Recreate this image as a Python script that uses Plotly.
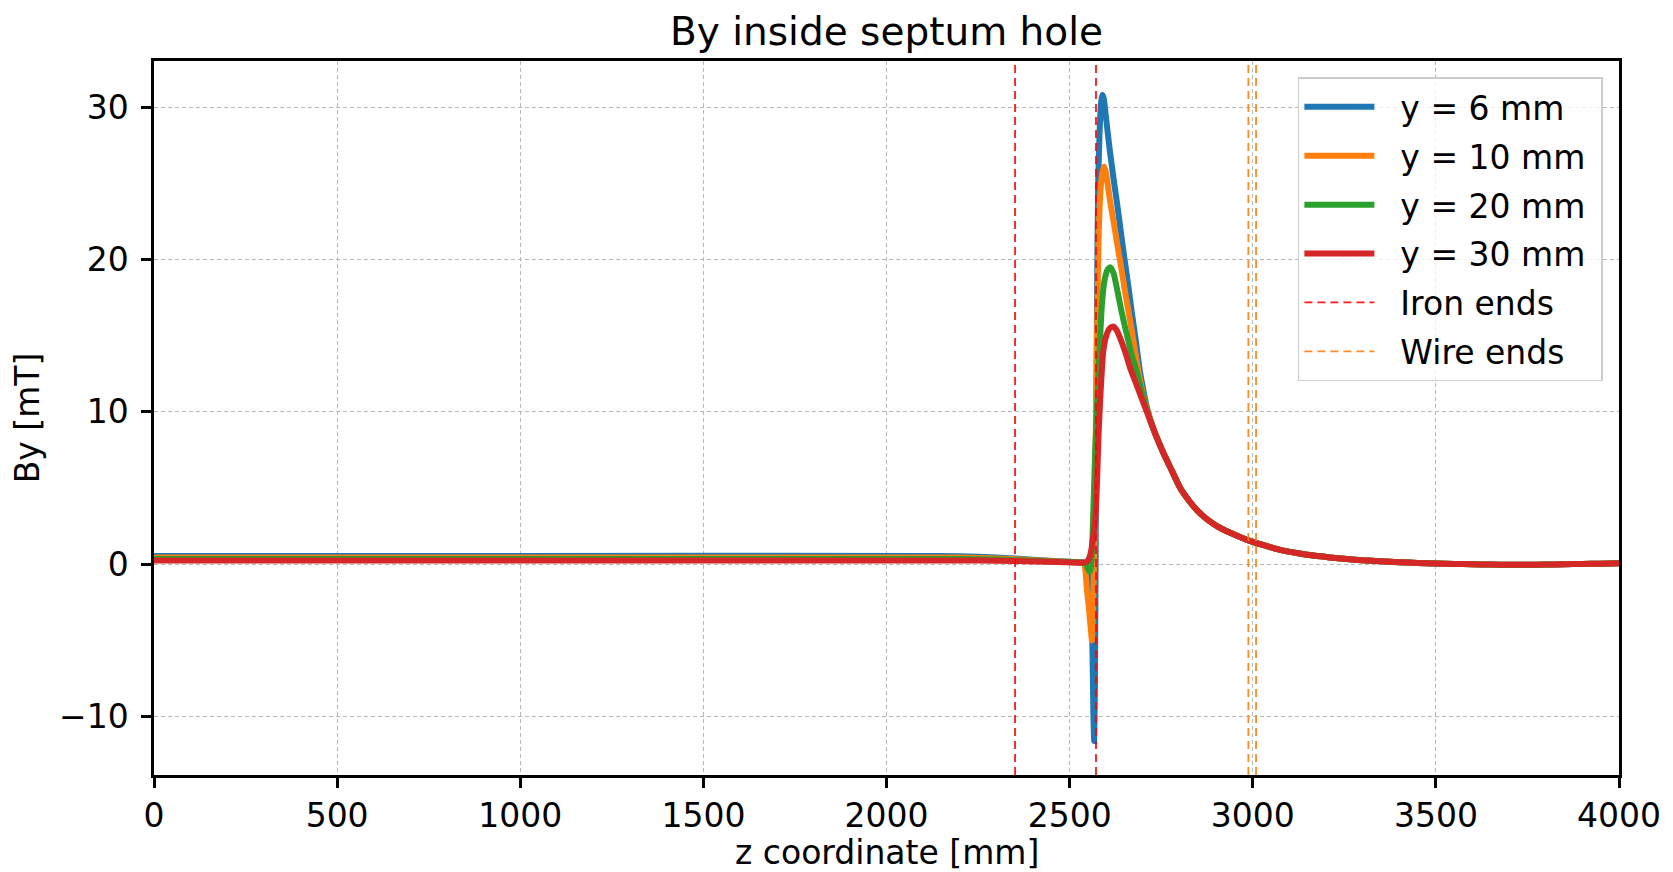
import plotly.graph_objects as go

# field profiles, z in mm, By in mT
z_y6 = [0, 1000, 2100, 2200, 2300, 2400, 2470, 2530, 2545, 2552, 2558, 2562, 2565, 2567,
        2569, 2572, 2575, 2578, 2582, 2586, 2589, 2593, 2598, 2610, 2620, 2630, 2641,
        2650, 2660, 2670, 2680, 2692, 2700, 2711]
by_y6 = [0.55, 0.55, 0.55, 0.53, 0.45, 0.30, 0.20, 0.13, 0.10, 0.0, -1.5, -5.0, -10.0, -11.6,
         -8.0, 5.0, 18.0, 25.0, 28.5, 30.3, 30.8, 30.6, 29.6, 27.1, 25.3, 23.6, 21.6,
         20.0, 18.3, 16.5, 14.8, 12.65, 11.6, 10.3]

z_y10 = [0, 1000, 2100, 2200, 2300, 2400, 2470, 2530, 2540, 2547, 2553, 2558, 2561, 2564,
         2568, 2572, 2576, 2579, 2585, 2590, 2595, 2600, 2610, 2620, 2630, 2640, 2650,
         2660, 2670, 2680, 2688, 2700, 2711]
by_y10 = [0.45, 0.45, 0.45, 0.44, 0.38, 0.27, 0.18, 0.12, 0.0, -1.6, -3.0, -4.3, -5.0, -3.0,
          2.0, 10.0, 17.0, 21.4, 24.8, 25.8, 26.1, 25.6, 23.9, 22.5, 21.0, 19.6, 18.1,
          16.7, 15.3, 13.8, 12.65, 11.2, 10.2]

z_y20 = [0, 1000, 2100, 2200, 2300, 2400, 2470, 2530, 2545, 2550, 2554, 2558, 2562, 2566,
         2570, 2575, 2579, 2584, 2588, 2595, 2603, 2611, 2620, 2630, 2640, 2650, 2660,
         2670, 2683, 2697, 2711]
by_y20 = [0.35, 0.35, 0.35, 0.35, 0.31, 0.23, 0.17, 0.11, 0.05, -0.3, -0.5, -0.2, 1.5, 4.5,
          7.5, 10.2, 12.65, 15.2, 17.0, 18.6, 19.3, 19.5, 19.1, 18.0, 16.8, 15.7, 14.7,
          13.7, 12.65, 11.3, 10.1]

z_y30 = [0, 1000, 2100, 2200, 2300, 2400, 2470, 2530, 2542, 2550, 2555, 2560, 2565, 2570,
         2575, 2579, 2585, 2592, 2600, 2610, 2620, 2630, 2642, 2655, 2665, 2680, 2695, 2711]
by_y30 = [0.25, 0.25, 0.25, 0.25, 0.23, 0.19, 0.15, 0.10, 0.12, 0.25, 0.5, 1.05, 1.9, 3.0,
          5.5, 8.5, 11.5, 14.0, 15.0, 15.5, 15.6, 15.3, 14.6, 13.7, 12.9, 11.95, 11.0, 10.0]

# common decay past the peak
z_tail = [2730, 2756, 2780, 2802, 2825, 2847, 2870, 2893, 2915, 2940, 2962, 2984, 3030,
          3075, 3120, 3166, 3210, 3257, 3300, 3348, 3400, 3450, 3500, 3550, 3600, 3650,
          3700, 3750, 3800, 3850, 3900, 3950, 4000]
by_tail = [8.8, 7.3, 6.1, 5.0, 4.2, 3.57, 3.05, 2.65, 2.33, 2.05, 1.82, 1.6, 1.25,
           0.95, 0.74, 0.57, 0.45, 0.35, 0.26, 0.2, 0.14, 0.09, 0.05, 0.02, 0.0, -0.02,
           -0.03, -0.03, -0.02, 0.0, 0.02, 0.04, 0.06]

iron_ends = [2351, 2572]
wire_ends = [2988, 3009]

y_range = [-13.83, 33.03]

series = [
    ("y = 6 mm", z_y6, by_y6, "#1f77b4"),
    ("y = 10 mm", z_y10, by_y10, "#ff7f0e"),
    ("y = 20 mm", z_y20, by_y20, "#2ca02c"),
    ("y = 30 mm", z_y30, by_y30, "#d62728"),
]

# pad legend labels a bit (sample -> text gap, right padding)
def label(s):
    return "\u00a0\u00a0" + s + "\u00a0"


fig = go.Figure()
for name, z, by, color in series:
    fig.add_trace(go.Scatter(
        x=z + z_tail, y=by + by_tail, mode="lines", name=label(name),
        line=dict(color=color, width=6, shape="spline", smoothing=0.5),
        legendgroup=name,
    ))


def vlines(xs):
    xv, yv = [], []
    for x in xs:
        xv += [x, x, None]
        yv += [y_range[0], y_range[1], None]
    return xv, yv


for name, xs, color in [("Iron ends", iron_ends, "#ff0000"),
                        ("Wire ends", wire_ends, "#ff7f0e")]:
    xv, yv = vlines(xs)
    fig.add_trace(go.Scatter(
        x=xv, y=yv, mode="lines", name=label(name), legendgroup=name,
        line=dict(color=color, width=1.8, dash="8px,5px"), opacity=0.9,
    ))

axis_common = dict(
    showline=True, linecolor="black", linewidth=2.5, mirror=True,
    ticks="outside", ticklen=10, tickwidth=2.5, tickcolor="black",
    showgrid=True, gridcolor="#b8b8b8", gridwidth=1, griddash="4px,3px",
    zeroline=False, tickfont=dict(size=33, color="black"), automargin=False,
)

# page body has an 8px margin, so the figure sits 8px in from the window corner
fig.update_layout(
    width=1657, height=864,
    margin=dict(l=146, r=46, t=53, b=97),
    plot_bgcolor="white", paper_bgcolor="white",
    font=dict(family="DejaVu Sans", color="black"),
    title=dict(text="By inside septum hole", x=0.5, xref="paper", y=1 - 23 / 864,
               yref="container", yanchor="middle", font=dict(size=39)),
    xaxis=dict(range=[0, 4000], dtick=500, **axis_common),
    yaxis=dict(range=y_range, tickvals=[-10, 0, 10, 20, 30], ticklabelstandoff=6,
               title=dict(text="By [mT]", font=dict(size=33), standoff=10),
               **axis_common),
    legend=dict(x=0.989, y=0.977, xanchor="right", yanchor="top",
                bgcolor="rgba(255,255,255,0.8)", bordercolor="#cccccc", borderwidth=1.5,
                font=dict(size=33), itemwidth=70, tracegroupgap=3),
)

# x-axis title as an annotation so it can sit right where the reference has it
fig.add_annotation(text="z coordinate [mm]", xref="paper", yref="paper",
                   x=0.5, y=-0.109, xanchor="center", yanchor="middle",
                   showarrow=False, font=dict(size=33))

fig.write_html("out.html")
